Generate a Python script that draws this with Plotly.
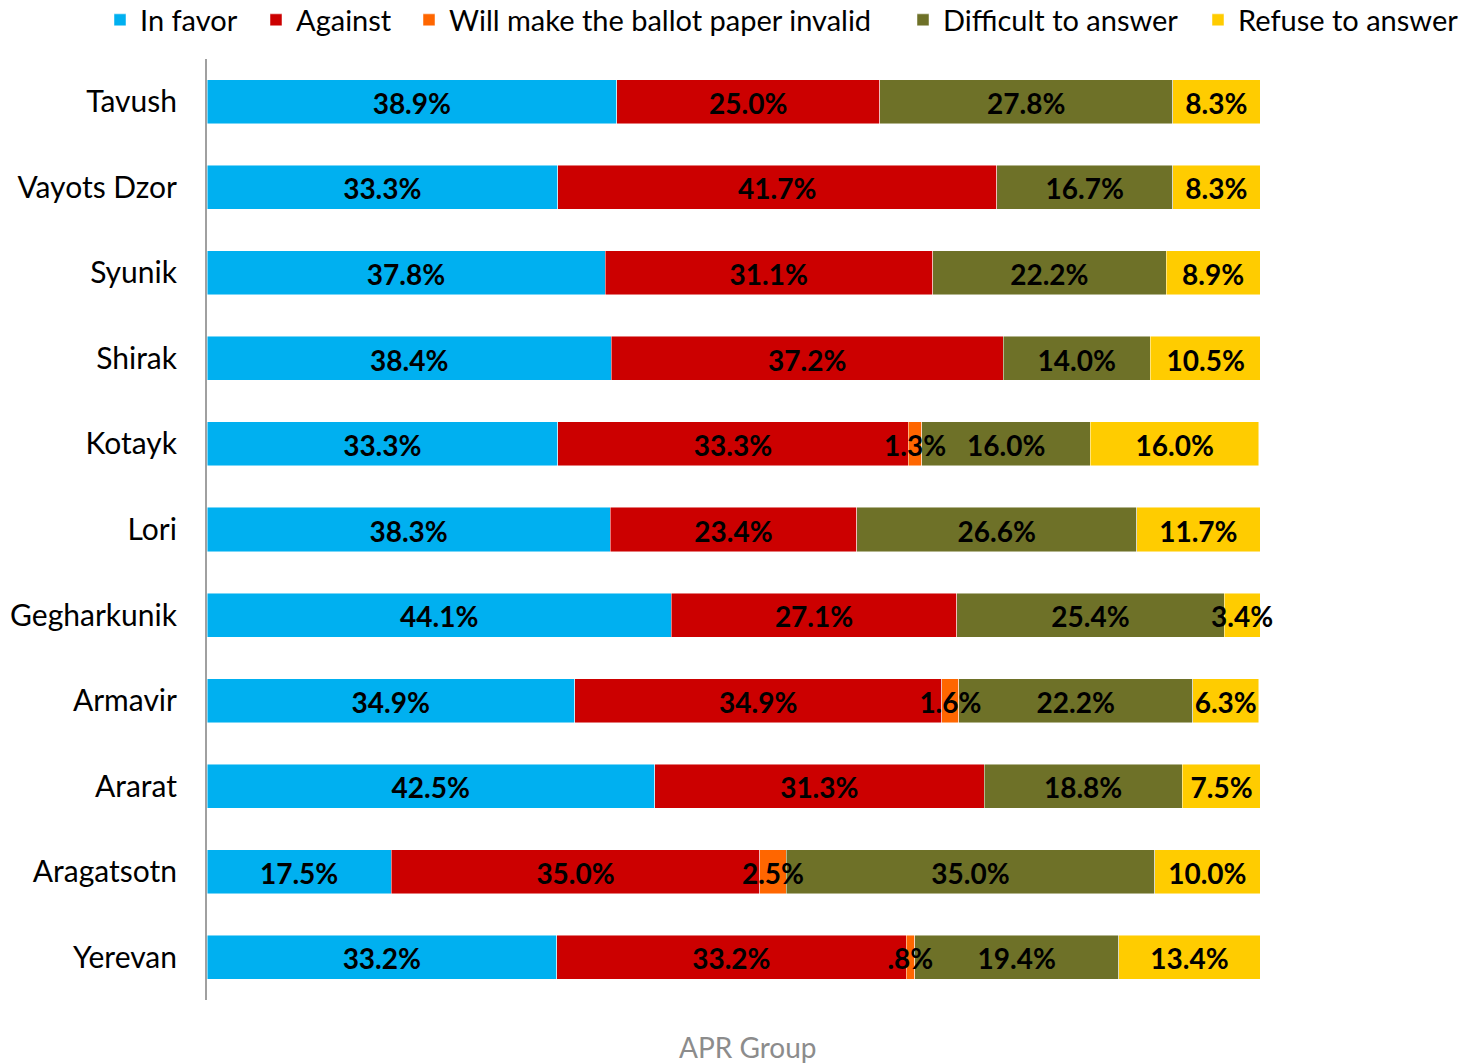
import plotly.graph_objects as go

regions = ["Tavush", "Vayots Dzor", "Syunik", "Shirak", "Kotayk", "Lori",
           "Gegharkunik", "Armavir", "Ararat", "Aragatsotn", "Yerevan"]
series_names = ["In favor", "Against", "Will make the ballot paper invalid",
                "Difficult to answer", "Refuse to answer"]
in_favor = [38.9, 33.3, 37.8, 38.4, 33.3, 38.3, 44.1, 34.9, 42.5, 17.5, 33.2]
against = [25.0, 41.7, 31.1, 37.2, 33.3, 23.4, 27.1, 34.9, 31.3, 35.0, 33.2]
invalid = [None, None, None, None, 1.3, None, None, 1.6, None, 2.5, 0.8]
difficult = [27.8, 16.7, 22.2, 14.0, 16.0, 26.6, 25.4, 22.2, 18.8, 35.0, 19.4]
refuse = [8.3, 8.3, 8.9, 10.5, 16.0, 11.7, 3.4, 6.3, 7.5, 10.0, 13.4]
colors = ["#00B0F0", "#CC0000", "#FF6600", "#6E7128", "#FFCC00"]

FONT = "Lato"
W, H = 1472, 1064
ML, MR, MT, MB = 207, 212, 59, 64
PW, PH = W - ML - MR, H - MT - MB

# left pixel where each legend entry's text starts (reference layout)
legend_text_x = [140, 296, 449, 943, 1238]


def fmt(v):
    if v is None:
        return ""
    s = f"{v:.1f}%"
    if s.startswith("0."):
        s = s[1:]
    return s


all_series = [in_favor, against, invalid, difficult, refuse]
legend_ids = ["legend", "legend2", "legend3", "legend4", "legend5"]
n = len(regions)

fig = go.Figure()
for name, vals, col, lid in zip(series_names, all_series, colors, legend_ids):
    fig.add_trace(go.Bar(
        y=regions, x=vals, name=name, orientation="h", legend=lid,
        marker=dict(color=col, line=dict(color="rgba(255,255,255,0.6)", width=0.8)),
        hoverinfo="x+y+name",
    ))

# data labels at segment centres, computed from the data
# (placed on an overlaid linear axis matching the category positions,
#  nudged slightly downward for optical centring)
lx, ly, lt = [], [], []
for i in range(n):
    cum = 0.0
    for vals in all_series:
        v = vals[i]
        if v is None:
            continue
        lx.append(cum + v / 2)
        ly.append((n - 1 - i) - 0.06)
        lt.append(fmt(v))
        cum += v
fig.add_trace(go.Scatter(
    x=lx, y=ly, text=lt, mode="text", textposition="middle center",
    yaxis="y2",
    textfont=dict(family=FONT, size=28, color="black", weight="bold"),
    showlegend=False, cliponaxis=False, hoverinfo="skip",
))

legend_layouts = {}
for lid, tx in zip(legend_ids, legend_text_x):
    legend_layouts[lid] = dict(
        orientation="h", x=(tx - 40 - ML) / PW, xanchor="left",
        y=1 + (MT - 20) / PH, yanchor="middle", font=dict(size=29),
        itemwidth=30, bgcolor="rgba(0,0,0,0)", borderwidth=0,
    )

fig.update_layout(
    barmode="stack", bargap=0.485,
    width=W, height=H,
    margin=dict(l=ML, r=MR, t=MT, b=MB, autoexpand=False),
    paper_bgcolor="white", plot_bgcolor="white",
    font=dict(family=FONT, size=28, color="black"),
    showlegend=True,
    yaxis2=dict(overlaying="y", range=[-0.5, n - 0.5], visible=False,
                fixedrange=True),
    **legend_layouts,
)
fig.update_xaxes(range=[0, 100], showgrid=False, showticklabels=False,
                 zeroline=False, showline=False)
fig.update_yaxes(selector=dict(overlaying=None),
                 categoryorder="array", categoryarray=regions[::-1],
                 range=[-0.5, n - 0.5],
                 showline=True, linecolor="#A0A0A0", linewidth=2,
                 showgrid=False, ticks="", ticklabelstandoff=22,
                 tickfont=dict(size=30))
fig.add_annotation(text="APR Group", xref="paper", yref="paper",
                   x=(748 - ML) / PW, y=-(1047 - (H - MB)) / PH,
                   yanchor="middle", showarrow=False,
                   font=dict(size=28, color="#8C8C8C"))

fig.write_html("out.html", config={"displayModeBar": False},
               post_script="document.body.style.margin='0';"
                           "document.body.style.overflow='hidden';")
